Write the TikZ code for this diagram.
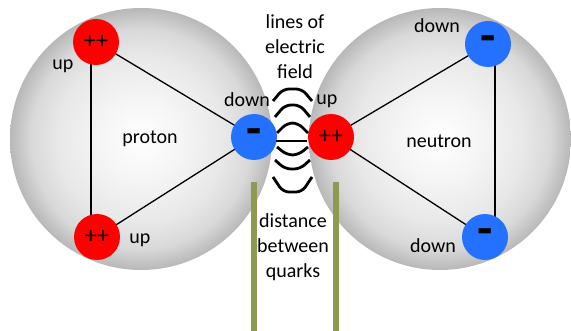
\documentclass[tikz,border=0pt]{standalone}
\usepackage{fontspec}
\setmainfont{Carlito}
\usepackage{xcolor}
\definecolor{quarkred}{HTML}{FF0000}
\definecolor{quarkblue}{HTML}{2470FF}
\definecolor{barolive}{HTML}{8C9A52}
\definecolor{ballgray}{HTML}{B8B8B8}
\usetikzlibrary{calc}
\pgfdeclareradialshading{nucleonshade}{\pgfpoint{0bp}{0bp}}{%
    color(0bp)=(white); color(8bp)=(black!4); color(16bp)=(black!9);
    color(21bp)=(black!15); color(25bp)=(ballgray); color(50bp)=(ballgray)}

\begin{document}
\begin{tikzpicture}[
    x=1pt, y=-1pt,
    font=\fontsize{20}{25}\selectfont,
    nucleon/.style={
        circle, minimum size=262pt, inner sep=0pt,
        shading=nucleonshade,
    },
    upq/.style={
        circle, fill=quarkred, minimum size=46pt, inner sep=0pt,
        font=\fontsize{24}{24}\selectfont,
    },
    downq/.style={
        circle, fill=quarkblue, minimum size=46pt, inner sep=0pt,
        font=\fontsize{50}{50}\selectfont\bfseries,
    },
    lbl/.style={inner sep=0pt, anchor=center},
    bond/.style={black, line width=1.3pt},
    fieldline/.style={black, line width=2.8pt, rounded corners=6pt},
    gap/.style={barolive, line width=6pt},
]
\useasboundingbox[fill=white] (0,0) rectangle (571,331);

% -- Nucleons --
\node[nucleon] (proton) at (141,139) {};
\node[nucleon] (neutron) at (440,139) {};

% -- Proton quarks --
\coordinate (pu1c) at (96,42);
\coordinate (pu2c) at (97,237);
\coordinate (pdc) at (254,137);
\draw[bond] (pu1c) -- (pdc) -- (pu2c);
\draw[bond] ($(pu1c)+(-5,0)$) -- ($(pu2c)+(-6,0)$);
\node[upq] (pu1) at (pu1c) {++};
\node[upq] (pu2) at (pu2c) {++};
\node[downq] (pd) at (pdc) {-};

% -- Neutron quarks --
\coordinate (nuc) at (331,137);
\coordinate (nd1c) at (488,44);
\coordinate (nd2c) at (485,237);
\draw[bond] (nd1c) -- (nuc) -- (nd2c);
\draw[bond] ($(nd1c)+(7,0)$) -- ($(nd2c)+(10,0)$);
\node[upq] (nu) at (nuc) {++};
\node[downq] (nd1) at (nd1c) {-};
\node[downq] (nd2) at (nd2c) {-};

% -- Labels --
\node[lbl] (lprot) at (150,139) {proton};
\node[lbl] (lneut) at (439,141) {neutron};
\node[lbl] (lup1) at (63,66) {up};
\node[lbl] (lup2) at (140,240) {up};
\node[lbl] (ldown) at (247,100) {down};
\node[lbl] (lupn) at (327,101) {up};
\node[lbl] (ldn1) at (437,26) {down};
\node[lbl] (ldn2) at (433,246) {down};

% ============ FIELD LINES ============
\draw[fieldline] (273,101) -- (283,89) -- (302,89) -- (312,101);
\draw[fieldline] (275,117) -- (285,105) -- (300,105) -- (310,117);
\draw[fieldline] (277,133) -- (287,123) -- (298,123) -- (308,133);
\draw[fieldline] (276,141) -- (307,141);
\draw[fieldline] (277,147) -- (287,155) -- (298,155) -- (308,147);
\draw[fieldline] (275,160) -- (285,169) -- (300,169) -- (310,160);
\draw[fieldline] (273,177) -- (283,192) -- (302,192) -- (312,177);

\node[lbl, align=center] (lfield) at (295,47) {lines of\\electric\\field};

% ============ DISTANCE ============
\coordinate (bl) at (254,182);
\coordinate (br) at (336,182);
\draw[gap] (bl) -- (bl |- 0,331);
\draw[gap] (br) -- (br |- 0,331);
\node[lbl, align=center] (ldist) at (293,247) {distance\\between\\quarks};

\end{tikzpicture}
\end{document}
